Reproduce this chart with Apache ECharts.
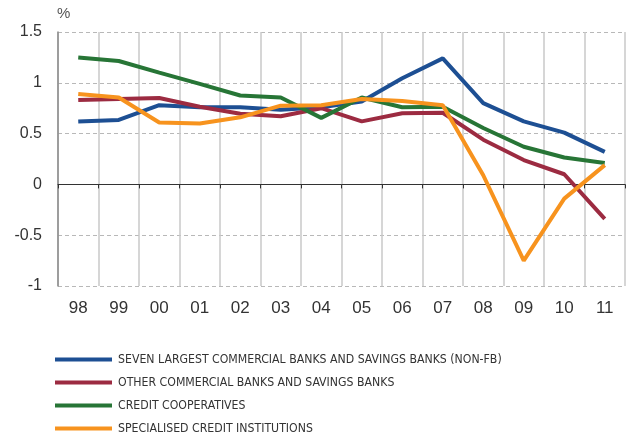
<!DOCTYPE html>
<html>
<head>
<meta charset="utf-8">
<script src="https://cdn.jsdelivr.net/npm/echarts@6/dist/echarts.min.js"></script>
<style>html,body{margin:0;padding:0;background:#fff}#c{width:626px;height:436px}</style>
</head>
<body>
<div id="c"></div>
<script>
var categories = ['98','99','00','01','02','03','04','05','06','07','08','09','10','11'];
var yTicks = [-1, -0.5, 0, 0.5, 1, 1.5];
var sevenLargest = [0.62, 0.635, 0.78, 0.76, 0.76, 0.735, 0.76, 0.815, 1.045, 1.24, 0.80, 0.62, 0.51, 0.32];
var otherBanks   = [0.83, 0.84, 0.85, 0.765, 0.695, 0.67, 0.75, 0.62, 0.70, 0.705, 0.44, 0.24, 0.10, -0.34];
var creditCoops  = [1.25, 1.215, 1.10, 0.99, 0.875, 0.855, 0.655, 0.855, 0.76, 0.765, 0.555, 0.37, 0.265, 0.21];
var specialised  = [0.89, 0.855, 0.61, 0.60, 0.66, 0.775, 0.78, 0.84, 0.82, 0.78, 0.09, -0.75, -0.14, 0.19];
var seriesNames = [
  'SEVEN LARGEST COMMERCIAL BANKS AND SAVINGS BANKS (NON-FB)',
  'OTHER COMMERCIAL BANKS AND SAVINGS BANKS',
  'CREDIT COOPERATIVES',
  'SPECIALISED CREDIT INSTITUTIONS'
];
var colors = ['#1d4f93', '#9c2b41', '#277536', '#f7931e'];
var seriesData = [sevenLargest, otherBanks, creditCoops, specialised];

var chart = echarts.init(document.getElementById('c'), null, {renderer: 'canvas'});
var font = '"Liberation Sans", Arial, Helvetica, sans-serif';
chart.setOption({
  animation: false,
  color: colors,
  grid: {left: 58, right: 1, top: 32, bottom: 150, containLabel: false},
  legend: {
    orient: 'vertical',
    left: 55,
    top: 352,
    padding: 0,
    itemWidth: 57,
    itemHeight: 4,
    itemGap: 8,
    icon: 'rect',
    textStyle: {fontFamily: '"DejaVu Sans Condensed", "Liberation Sans Narrow", sans-serif', fontSize: 12.2, lineHeight: 15, color: '#333', padding: [0,0,0,1]},
    data: seriesNames
  },
  xAxis: [{
    type: 'category',
    data: categories,
    position: 'bottom',
    boundaryGap: true,
    axisLine: {show: false, onZero: false},
    axisTick: {show: false},
    axisLabel: {fontFamily: font, fontSize: 17, color: '#333', margin: 14},
    splitLine: {show: true, lineStyle: {color: '#c8c8c8', width: 1.5}}
  }, {
    type: 'category',
    data: categories,
    position: 'top',
    boundaryGap: true,
    axisLine: {show: true, onZero: true, lineStyle: {color: '#333', width: 1}},
    axisTick: {show: true, inside: true, length: 4, lineStyle: {color: '#333'}},
    axisLabel: {show: false},
    splitLine: {show: false}
  }],
  yAxis: {
    type: 'value',
    min: yTicks[0],
    max: yTicks[yTicks.length - 1],
    interval: 0.5,
    name: '%',
    nameLocation: 'end',
    nameGap: 11,
    nameTextStyle: {fontFamily: font, fontSize: 15, color: '#555', align: 'left', padding: [0,0,0,-1]},
    axisLine: {show: true, lineStyle: {color: '#8a8a8a', width: 1.5}},
    axisTick: {show: false},
    axisLabel: {fontFamily: font, fontSize: 16, color: '#333', margin: 16},
    splitLine: {show: true, lineStyle: {color: '#b8b8b8', type: [4, 3], width: 1}}
  },
  series: seriesData.map(function (d, i) {
    return {
      name: seriesNames[i],
      type: 'line',
      xAxisIndex: 0,
      data: d,
      symbol: 'none',
      smooth: false,
      lineStyle: {width: 4, color: colors[i]},
      itemStyle: {color: colors[i]}
    };
  })
});
</script>
</body>
</html>
